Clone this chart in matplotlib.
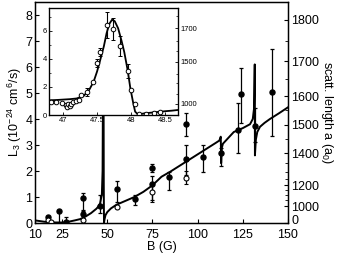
import matplotlib
matplotlib.use("Agg")
import matplotlib.pyplot as plt
import matplotlib.transforms as mtransforms
import numpy as np

plt.rcParams['font.family'] = ['Liberation Sans', 'DejaVu Sans']
plt.rcParams['mathtext.fontset'] = 'custom'
plt.rcParams['mathtext.rm'] = 'Liberation Sans'
plt.rcParams['mathtext.it'] = 'Liberation Sans:italic'

# ---------------- main panel data ----------------
curve_B = [10, 12, 15, 18, 20, 25, 28, 32, 35, 38, 41, 44, 45, 46, 47, 47.4, 47.6, 47.7,
           47.85, 47.95, 48.05, 48.15, 48.2, 48.5, 49, 50, 52, 55, 60, 65, 70, 75, 80, 85,
           90, 95, 100, 105, 110, 112, 112.8, 113.0, 113.4, 114, 116, 120, 125, 129, 130.5,
           131.2, 131.6, 131.7, 132.2, 133, 134.5, 137, 140, 145, 150]
curve_L = [0.1, 0.08, 0.05, 0.03, 0.02, 0.02, 0.04, 0.1, 0.15, 0.25, 0.38, 0.55, 0.63, 0.75,
           1.1, 2.0, 5.0, 7.5, 7.5, 5, 1.5, 0.3, 0.02, 0.15, 0.3, 0.42, 0.56, 0.7, 0.85, 1.0,
           1.2, 1.45, 1.78, 1.98, 2.2, 2.42, 2.64, 2.86, 3.08, 3.17, 3.32, 2.3, 2.9, 3.05,
           3.2, 3.5, 3.65, 3.8, 4.0, 4.4, 6.1, 2.6, 3.2, 3.5, 3.7, 3.85, 4.0, 4.22, 4.45]

filled_B = [17.4, 23.2, 27.2, 36.7, 36.7, 46.0, 55.5, 65.2, 74.6, 74.6, 84.2, 93.8, 93.8,
            103.1, 112.9, 122.2, 123.8, 131.9, 141.3]
filled_L = [0.22, 0.45, 0.02, 0.95, 0.33, 0.65, 1.3, 0.91, 2.13, 1.5, 1.76, 3.79, 2.46,
            2.55, 2.68, 3.58, 4.95, 3.73, 5.03]
filled_lo = [0.1, 0.45, 0.0, 0.45, 0.15, 0.27, 0.5, 0.2, 0.15, 0.6, 0.5, 0.45, 0.6,
             0.6, 0.5, 0.9, 1.1, 0.6, 1.7]
filled_hi = [0.05, 0.0, 0.2, 0.22, 0.12, 0.43, 0.33, 0.15, 0.15, 0.3, 0.22, 0.45, 0.55,
             0.45, 0.22, 1.05, 1.0, 0.7, 1.65]

open_B = [17.4, 19.0, 36.7, 55.2, 74.6, 93.8]
open_L = [0.12, 0.02, 0.12, 0.63, 1.2, 1.74]
open_lo = [0.0, 0.0, 0.0, 0.0, 0.38, 0.25]
open_hi = [0.0, 0.0, 0.0, 0.0, 0.3, 0.25]

x_ticks = [10, 25, 50, 75, 100, 125, 150]
y_ticks = [0, 1, 2, 3, 4, 5, 6, 7, 8]

# right (scattering length) axis: label -> position in L3 units
a_tick_labels = ['0', '1000', '1200', '1400', '1500', '1600', '1700', '1800']
a_tick_pos = [0.0, 0.65, 1.46, 2.69, 3.77, 4.88, 6.23, 7.81]
a_minor_pos = [0.88, 1.08, 1.27, 1.69, 1.96, 2.31, 3.23, 4.35, 5.54, 7.0]

# ---------------- inset data ----------------
in_curve_B = [46.8, 46.9, 47.0, 47.1, 47.2, 47.3, 47.38, 47.45, 47.5, 47.54, 47.6, 47.64,
              47.68, 47.72, 47.76, 47.81, 47.86, 47.9, 47.95, 47.99, 48.03, 48.06, 48.1,
              48.15, 48.2, 48.3, 48.4, 48.5, 48.6, 48.69]
in_curve_L = [1.05, 1.07, 1.1, 1.13, 1.18, 1.35, 1.75, 2.38, 3.1, 3.8, 4.9, 5.83, 6.5,
              6.8, 6.7, 6.19, 5.3, 4.5, 3.2, 1.9, 0.9, 0.24, 0.05, 0.08, 0.12, 0.17, 0.22,
              0.27, 0.31, 0.36]

in_B = [46.82, 46.89, 46.98, 47.04, 47.06, 47.08, 47.10, 47.12, 47.15, 47.19, 47.23, 47.26,
        47.35, 47.44, 47.50, 47.55, 47.64, 47.73, 47.84, 47.95, 48.00, 48.06, 48.12, 48.22,
        48.33, 48.42]
in_L = [0.95, 0.90, 0.85, 0.70, 0.60, 0.80, 0.65, 0.78, 0.92, 1.00, 1.08, 1.40, 1.65, 2.35,
        3.70, 4.50, 6.43, 6.14, 4.93, 3.17, 1.79, 0.76, 0.05, 0.07, 0.17, 0.24]
in_err = [0, 0, 0, 0, 0, 0, 0, 0, 0, 0, 0, 0, 0.3, 0, 0.3, 0.3, 0.9, 0.8, 0.7, 0.5, 0, 0, 0,
          0, 0, 0]

in_x_ticks = [47, 47.5, 48, 48.5]
in_x_labels = ['47', '47.5', '48', '48.5']
in_y_ticks = [0, 2, 4, 6]
in_y_minor = [1, 3, 5, 7]
in_a_labels = ['1000', '1500', '1700']
in_a_pos = [0.79, 3.79, 6.21]
in_a_minor = [1.5, 2.3, 2.9, 4.6, 5.3, 7.1]

# ---------------- figure ----------------
fig = plt.figure(figsize=(3.39, 2.59), dpi=100)
ax = fig.add_axes([35 / 339, 36 / 259, 253 / 339, 221 / 259])
ax.set_zorder(1)

ax.plot(curve_B, curve_L, color='black', lw=1.4, zorder=3)
ax.errorbar(filled_B, filled_L, yerr=[filled_lo, filled_hi], fmt='o', color='black',
            ms=3.6, mfc='black', mec='black', elinewidth=0.9, capsize=1.6, capthick=0.9,
            zorder=4)
ax.errorbar(open_B, open_L, yerr=[open_lo, open_hi], fmt='o', color='black',
            ms=3.6, mfc='white', mec='black', mew=0.8, elinewidth=0.9, capsize=1.6,
            capthick=0.9, zorder=4)

ax.set_xlim(10, 150)
ax.set_ylim(0, 8.5)
ax.set_xticks(x_ticks)
ax.set_yticks(y_ticks)
ax.tick_params(direction='in', labelsize=9, length=3, width=0.8, pad=2)
ax.tick_params(axis='x', pad=4)
for s in ax.spines.values():
    s.set_linewidth(1.0)
ax.set_xlabel('B (G)', fontsize=9, labelpad=0.5)
ax.set_ylabel('L$_3$ (10$^{-24}$ cm$^6$/s)', fontsize=9, labelpad=1)

ax2 = ax.twinx()
ax2.set_zorder(2)
ax2.set_ylim(0, 8.5)
ax2.set_yticks(a_tick_pos)
ax2.set_yticklabels(a_tick_labels)
ax2.set_yticks(a_minor_pos, minor=True)
ax2.tick_params(axis='y', which='major', direction='in', labelsize=9, length=3,
                width=0.8, pad=2)
ax2.tick_params(axis='y', which='minor', direction='in', length=2, width=0.6)
# nudge the bottom "0" label on the right axis up slightly to clear "150"
zero_lab = ax2.get_yticklabels()[0]
zero_lab.set_transform(zero_lab.get_transform() +
                       mtransforms.ScaledTranslation(0.01, 2.5 / 72, fig.dpi_scale_trans))
ax2.set_ylabel('scatt. length a (a$_0$)', fontsize=9, rotation=270, labelpad=12)

# ---------------- inset ----------------
ins = fig.add_axes([49 / 339, 144 / 259, 129 / 339, 107 / 259])
ins.set_zorder(5)
ins.set_facecolor('white')
ins.plot(in_curve_B, in_curve_L, color='black', lw=1.3, zorder=3)
ins.errorbar(in_B, in_L, yerr=in_err, fmt='o', color='black', ms=3.3, mfc='white',
             mec='black', mew=0.7, elinewidth=0.8, capsize=1.5, capthick=0.8, zorder=4)
ins.set_xlim(46.794, 48.69)
ins.set_ylim(0, 7.64)
ins.set_xticks(in_x_ticks)
ins.set_xticklabels(in_x_labels)
ins.set_yticks(in_y_ticks)
ins.set_yticks(in_y_minor, minor=True)
ins.tick_params(direction='in', labelsize=5.5, length=2, width=0.6, pad=1.5)
ins.tick_params(which='minor', direction='in', length=1.5, width=0.5)
for s in ins.spines.values():
    s.set_linewidth(0.9)

ins2 = ins.twinx()
ins2.set_zorder(6)
ins2.set_ylim(0, 7.64)
ins2.set_yticks(in_a_pos)
ins2.set_yticklabels(in_a_labels)
ins2.set_yticks(in_a_minor, minor=True)
ins2.tick_params(axis='y', which='major', direction='in', labelsize=5.5, length=2,
                 width=0.6, pad=1.5)
ins2.tick_params(axis='y', which='minor', direction='in', length=1.5, width=0.5)

fig.savefig('out.png', dpi=100)
